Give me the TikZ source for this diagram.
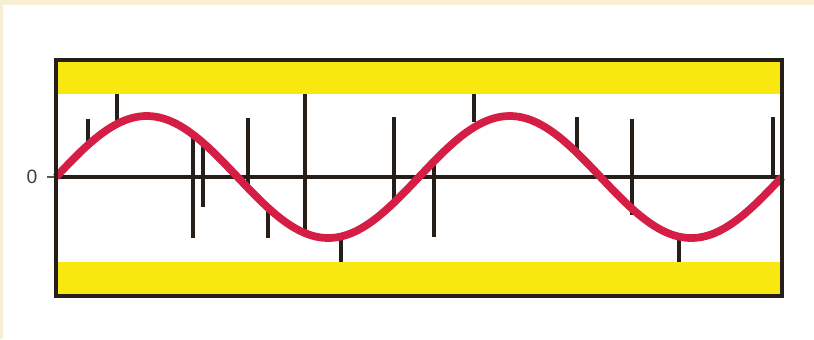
\documentclass[tikz,border=0pt]{standalone}
\usepackage{fontspec}
\setsansfont{Liberation Sans}
\definecolor{paper}{RGB}{248,237,213}
\definecolor{band}{RGB}{249,232,16}
\definecolor{ink}{RGB}{37,30,25}
\definecolor{signal}{RGB}{213,30,69}
\begin{document}
\begin{tikzpicture}[x=0.02cm,y=-0.02cm]
  \fill[white] (0,0) rectangle (814,339);
  \useasboundingbox (0,0) rectangle (814,339);
  \fill[paper] (0,0) rectangle (814,5);
  \fill[paper] (0,0) rectangle (3,339);
  \coordinate (TL) at (56,60);
  \coordinate (BR) at (782,296);
  \coordinate (O) at (56,177);
  \coordinate (E) at (782,177);
  \fill[band] (TL) rectangle (782,94);
  \fill[band] (56,262) rectangle (BR);
  \draw[ink,line width=1.9pt] (O) -- (E);
  \draw[ink!75,line width=1.1pt] (O) -- ++(-9,0);
  \node[text=ink!85,font=\sffamily\fontsize{11}{12}\selectfont] (zero) at (32,177) {0};
  \foreach \px/\ya/\yb in {88/119/144, 117/94/123, 193/132/238, 203/142/207,
      248/118/188, 268/208/238, 305/94/234, 341/238/262, 394/117/205,
      434/158/237, 474/94/122, 577/117/150, 632/119/215, 679/238/262, 773/117/177}
    \draw[ink,line width=1.9pt] (\px,\ya) -- (\px,\yb);
  \draw[signal,line width=4.4pt] plot[domain=56:782,samples=200,smooth]
    (\x,{177-61*sin((\x-56)/363*360)});
  \draw[ink,line width=2pt] (TL) rectangle (BR);
\end{tikzpicture}
\end{document}
